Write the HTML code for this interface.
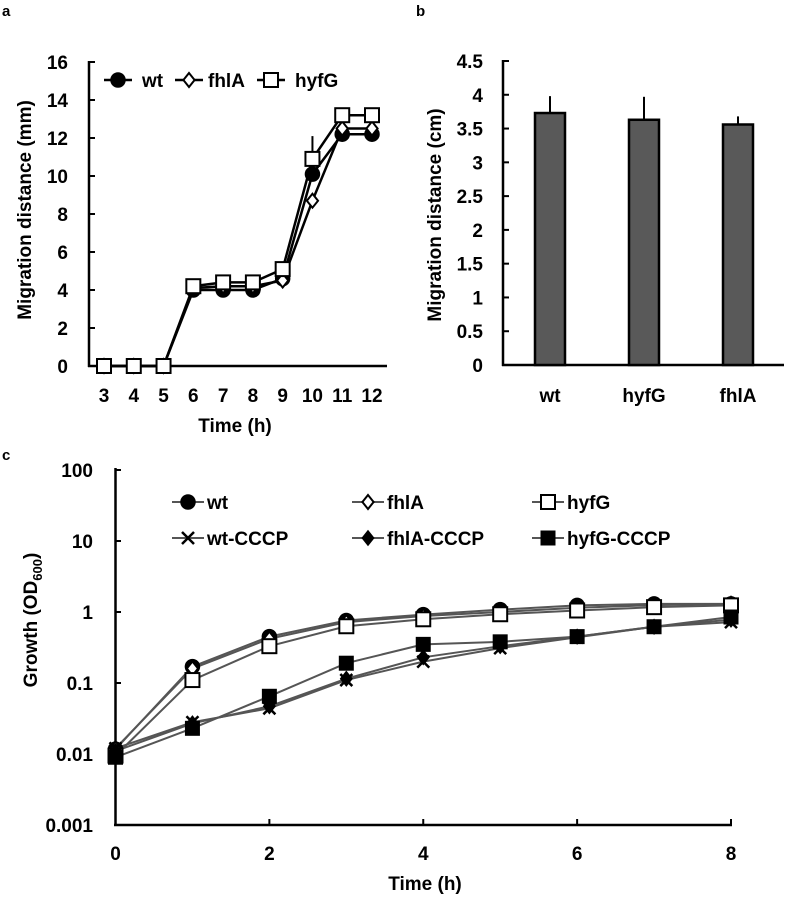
<!DOCTYPE html>
<html><head><meta charset="utf-8"><style>
body{margin:0;background:#fff;}
svg{display:block;font-family:"Liberation Sans",Arial,sans-serif;font-weight:bold;}
</style></head><body>
<svg id="fig" width="786" height="899" viewBox="0 0 786 899">
<g id="pa"></g>
<g id="pb"></g>
<g id="pc"></g>
</svg>
<script>
// Panel a data
const aTimes=[3,4,5,6,7,8,9,10,11,12];
const aWt=[0,0,0,4.0,4.0,4.0,4.6,10.1,12.2,12.2];
const aFhlA=[0,0,0,4.1,4.2,4.2,4.5,8.7,12.5,12.5];
const aHyfG=[0,0,0,4.2,4.4,4.4,5.1,10.9,13.2,13.2];
const aYTicks=[0,2,4,6,8,10,12,14,16];
// Panel b data
const bCats=["wt","hyfG","fhlA"];
const bVals=[3.73,3.63,3.56];
const bErr=[0.25,0.34,0.12];
const bYTicks=["0","0.5","1","1.5","2","2.5","3","3.5","4","4.5"];
// Panel c data
const cTimes=[0,1,2,3,4,5,6,7,8];
const cWt=[0.0117,0.17,0.45,0.76,0.92,1.08,1.24,1.3,1.3];
const cFhlA=[0.012,0.16,0.42,0.72,0.88,1.0,1.15,1.25,1.3];
const cHyfG=[0.0095,0.11,0.33,0.63,0.79,0.93,1.05,1.17,1.24];
const cWtC=[0.012,0.028,0.044,0.11,0.2,0.31,0.44,0.62,0.72];
const cFhlAC=[0.011,0.027,0.047,0.115,0.23,0.33,0.45,0.62,0.78];
const cHyfGC=[0.009,0.023,0.065,0.19,0.35,0.38,0.45,0.62,0.85];
const cYTicks=["0.001","0.01","0.1","1","10","100"];
const cXTicks=[0,2,4,6,8];

const NS="http://www.w3.org/2000/svg";
function mk(parent,tag,attrs,txt){const e=document.createElementNS(NS,tag);for(const k in attrs)e.setAttribute(k,attrs[k]);if(txt!==undefined)e.textContent=txt;parent.appendChild(e);return e;}
function marker(g,type,x,y,s,col){
  let e;
  if(type==='circle'){e=mk(g,'circle',{cx:x,cy:y,r:s,fill:col,stroke:col,'stroke-width':1.5});}
  else if(type==='diamond'){e=mk(g,'path',{d:`M${x} ${y-s}L${x+s*0.8} ${y}L${x} ${y+s}L${x-s*0.8} ${y}Z`,fill:'#fff',stroke:col,'stroke-width':2});}
  else if(type==='fdiamond'){e=mk(g,'path',{d:`M${x} ${y-s}L${x+s*0.8} ${y}L${x} ${y+s}L${x-s*0.8} ${y}Z`,fill:'#000',stroke:'#000','stroke-width':1.5});}
  else if(type==='square'){e=mk(g,'rect',{x:x-s,y:y-s,width:2*s,height:2*s,fill:'#fff',stroke:col,'stroke-width':2});}
  else if(type==='fsquare'){e=mk(g,'rect',{x:x-s,y:y-s,width:2*s,height:2*s,fill:'#000',stroke:'#000','stroke-width':1});}
  else {e=mk(g,'path',{d:`M${x-s} ${y-s}L${x+s} ${y+s}M${x+s} ${y-s}L${x-s} ${y+s}`,stroke:'#000','stroke-width':2.5});}
  return e;
}

// ---------- Panel a ----------
(function(){
const g=document.getElementById('pa');
const X=t=>104+(t-3)*(372-104)/9, Y=v=>366-v*(366-62)/16;
mk(g,'text',{x:2,y:16,'font-size':15,},'a');
mk(g,'line',{x1:89,y1:61,x2:89,y2:367,stroke:'#000','stroke-width':2.5,});
mk(g,'line',{x1:88,y1:366,x2:387,y2:366,stroke:'#000','stroke-width':2.5,});
aYTicks.forEach(v=>{mk(g,'line',{x1:89,y1:Y(v),x2:95,y2:Y(v),stroke:'#000','stroke-width':2});
 const t=mk(g,'text',{x:68,y:Y(v)+7,'font-size':19,'text-anchor':'end'},v);
 
 });
aTimes.forEach(tm=>{const t=mk(g,'text',{x:X(tm),y:402,'font-size':19,'text-anchor':'middle'},tm);
 
 });
mk(g,'text',{x:235,y:432,'font-size':19,'text-anchor':'middle',},'Time (h)');
mk(g,'text',{x:0,y:0,'font-size':19,'text-anchor':'middle',transform:'translate(31,210) rotate(-90)',},'Migration distance (mm)');
mk(g,'line',{x1:X(10),y1:Y(aHyfG[7]),x2:X(10),y2:Y(12.1),stroke:'#000','stroke-width':2,});
const series=[[aWt,'circle','wt'],[aFhlA,'diamond','fhla'],[aHyfG,'square','hyfg']];
series.forEach(([d,m,n])=>{
 const p=mk(g,'polyline',{points:d.map((v,i)=>X(aTimes[i])+','+Y(v)).join(' '),fill:'none',stroke:'#000','stroke-width':2.5});
 
 
});
series.forEach(([d,m,n])=>{d.forEach((v,i)=>{const e=marker(g,m,X(aTimes[i]),Y(v),7,'#000');
 
 });});
const leg=[[118,'circle','wt',142],[189,'diamond','fhlA',208],[271,'square','hyfG',295]];
leg.forEach(([x,m,l,tx])=>{const lg=mk(g,'g',{});
 
 
 mk(lg,'line',{x1:x-14,y1:80,x2:x+14,y2:80,stroke:'#000','stroke-width':2.5});
 marker(lg,m,x,80,7,'#000');
 mk(lg,'text',{x:tx,y:87,'font-size':19},l);});
})();

// ---------- Panel b ----------
(function(){
const g=document.getElementById('pb');
const Y=v=>365-v*(365-61)/4.5;
const cx=[550,644,738];
mk(g,'text',{x:416,y:16,'font-size':15,},'b');
mk(g,'line',{x1:503,y1:60,x2:503,y2:366,stroke:'#000','stroke-width':2.5,});
mk(g,'line',{x1:502,y1:365,x2:784,y2:365,stroke:'#000','stroke-width':2.5,});
bYTicks.forEach(s=>{const v=parseFloat(s);mk(g,'line',{x1:503,y1:Y(v),x2:509,y2:Y(v),stroke:'#000','stroke-width':2});
 const t=mk(g,'text',{x:483,y:Y(v)+7,'font-size':19,'text-anchor':'end'},s);
 
 });
bCats.forEach((c,i)=>{
 const eb=mk(g,'line',{x1:cx[i],y1:Y(bVals[i]),x2:cx[i],y2:Y(bVals[i]+bErr[i]),stroke:'#000','stroke-width':2});
 
 
 const r=mk(g,'rect',{x:cx[i]-15,y:Y(bVals[i]),width:30,height:365-Y(bVals[i]),fill:'#595959',stroke:'#000','stroke-width':2.5});
 
 
 const t=mk(g,'text',{x:cx[i],y:402,'font-size':19,'text-anchor':'middle'},c);
 
 
});
mk(g,'text',{x:0,y:0,'font-size':19,'text-anchor':'middle',transform:'translate(441,215) rotate(-90)',},'Migration distance (cm)');
})();

// ---------- Panel c ----------
(function(){
const g=document.getElementById('pc');
const X=t=>115.5+t*(731-115.5)/8, Y=v=>612-Math.log10(v)*71;
mk(g,'text',{x:2,y:460,'font-size':15,},'c');
mk(g,'line',{x1:115.5,y1:468,x2:115.5,y2:826,stroke:'#000','stroke-width':2.5,});
mk(g,'line',{x1:114,y1:825,x2:732,y2:825,stroke:'#000','stroke-width':2.5,});
cYTicks.forEach(s=>{const v=parseFloat(s);mk(g,'line',{x1:115.5,y1:Y(v),x2:121,y2:Y(v),stroke:'#000','stroke-width':2});
 const t=mk(g,'text',{x:93,y:Y(v)+7,'font-size':19,'text-anchor':'end'},s);
 
 });
cXTicks.forEach(v=>{mk(g,'line',{x1:X(v),y1:825,x2:X(v),y2:819,stroke:'#000','stroke-width':2});
 const t=mk(g,'text',{x:X(v),y:860,'font-size':19,'text-anchor':'middle'},v);
 
 });
mk(g,'text',{x:425,y:890,'font-size':19,'text-anchor':'middle',},'Time (h)');
const yt=mk(g,'text',{x:0,y:0,'font-size':19,'text-anchor':'middle',transform:'translate(37,620) rotate(-90)',});
yt.innerHTML='Growth (OD<tspan font-size="13" dy="5">600</tspan><tspan dy="-5">)</tspan>';
const series=[[cWt,'circle','wt'],[cFhlA,'diamond','fhlA'],[cHyfG,'square','hyfG'],[cWtC,'x','wt-CCCP'],[cFhlAC,'fdiamond','fhlA-CCCP'],[cHyfGC,'fsquare','hyfG-CCCP']];
series.forEach(([d,m,n])=>{
 const p=mk(g,'polyline',{points:d.map((v,i)=>X(cTimes[i])+','+Y(v)).join(' '),fill:'none',stroke:'#555','stroke-width':2});
 
 
});
series.forEach(([d,m,n])=>{d.forEach((v,i)=>{const e=marker(g,m,X(cTimes[i]),Y(v),m==='x'?6:7,'#000');
 
 });});
const leg=[[188,502,'circle','wt'],[368,502,'diamond','fhlA'],[548,502,'square','hyfG'],[188,538,'x','wt-CCCP'],[368,538,'fdiamond','fhlA-CCCP'],[548,538,'fsquare','hyfG-CCCP']];
leg.forEach(([x,y,m,l])=>{const lg=mk(g,'g',{});
 
 
 mk(lg,'line',{x1:x-16,y1:y,x2:x+16,y2:y,stroke:'#555','stroke-width':2});
 marker(lg,m,x,y,m==='x'?6:7,'#000');
 mk(lg,'text',{x:x+19,y:y+7,'font-size':19},l);});
})();
</script>
</body></html>
